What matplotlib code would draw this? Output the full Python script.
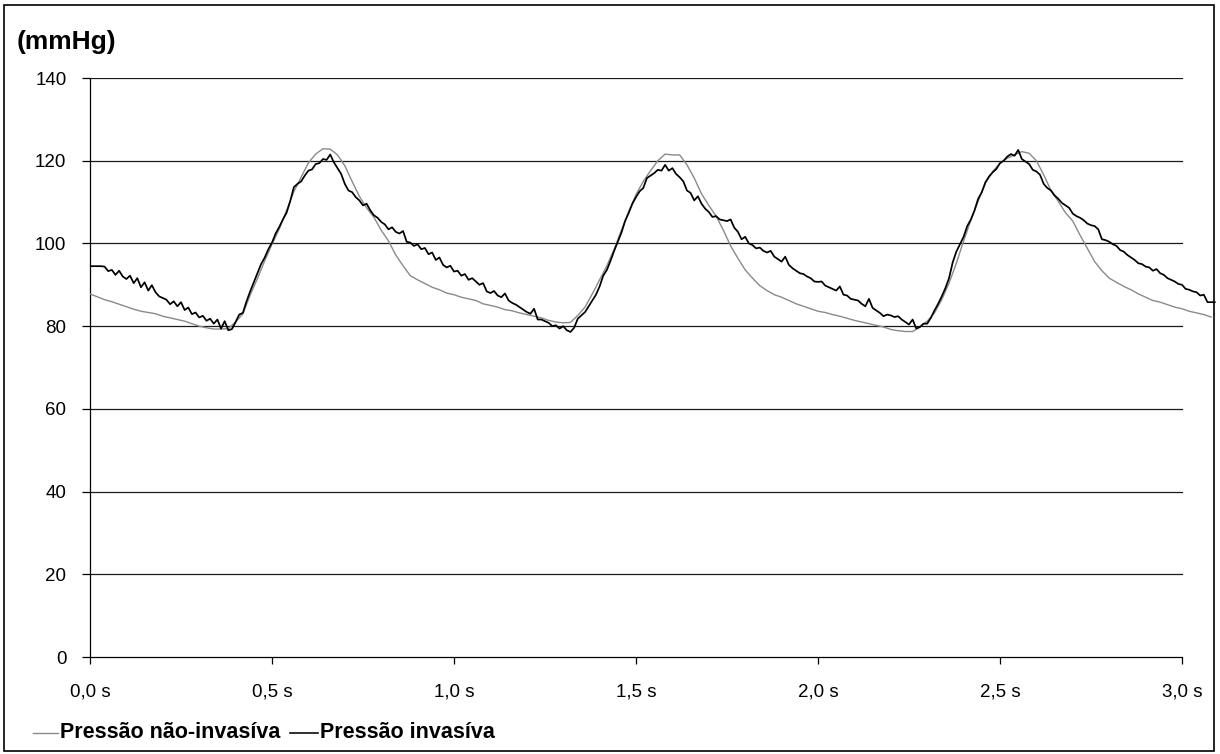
import numpy as np
import matplotlib
matplotlib.use("Agg")
import matplotlib.pyplot as plt
from matplotlib.lines import Line2D
from matplotlib.patches import Rectangle

plt.rcParams['font.family'] = ['Liberation Sans', 'DejaVu Sans']

# ---- data ----
y_label = "(mmHg)"
series_names = ["Pressão não-invasíva", "Pressão invasíva"]
x_ticks = [0.0, 0.5, 1.0, 1.5, 2.0, 2.5, 3.0]
x_tick_labels = ["0,0 s", "0,5 s", "1,0 s", "1,5 s", "2,0 s", "2,5 s", "3,0 s"]
y_ticks = [0, 20, 40, 60, 80, 100, 120, 140]

# invasive pressure, sampled every 0.01 s from 0 s
dt_inv = 0.01
invasive = [
    94.5, 94.5, 94.5, 94.5, 94.4, 93.3, 93.6, 92.4, 93.4, 92.0,
    91.4, 92.2, 90.4, 91.6, 89.4, 90.6, 88.6, 89.9, 88.2, 87.2,
    86.8, 86.4, 85.3, 86.0, 84.8, 85.8, 83.9, 84.5, 82.9, 83.3,
    82.1, 82.5, 81.3, 81.8, 80.6, 81.6, 79.4, 81.2, 79.0, 79.3,
    81.0, 82.8, 83.2, 86.0, 88.4, 90.6, 92.8, 95.0, 96.6, 98.6,
    100.2, 102.4, 104.0, 105.8, 107.4, 110.2, 113.6, 114.4, 115.0, 116.4,
    117.6, 117.9, 119.2, 119.4, 120.4, 120.2, 121.5, 119.6, 118.2, 116.8,
    114.4, 112.8, 112.4, 111.2, 110.4, 109.2, 109.6, 108.0, 106.8, 106.2,
    105.2, 104.6, 103.4, 103.9, 102.8, 102.4, 103.0, 100.4, 100.2, 99.4,
    99.8, 98.6, 98.9, 97.4, 97.8, 96.0, 96.6, 94.8, 94.2, 94.6,
    93.2, 93.4, 92.2, 92.6, 91.2, 91.6, 90.8, 90.0, 90.4, 88.4,
    88.0, 88.5, 87.4, 87.0, 87.9, 86.2, 85.6, 85.2, 84.6, 84.0,
    83.4, 83.0, 84.2, 81.6, 81.6, 81.2, 80.8, 80.0, 80.2, 79.4,
    80.0, 79.0, 78.6, 79.6, 81.8, 82.6, 83.4, 84.8, 86.2, 87.6,
    89.6, 92.2, 93.6, 95.8, 98.2, 100.4, 102.6, 105.4, 107.4, 109.6,
    111.2, 112.6, 113.4, 115.8, 116.4, 117.0, 117.8, 117.6, 119.0, 117.6,
    118.2, 116.8, 116.0, 115.0, 112.8, 112.2, 110.4, 111.4, 109.6, 108.4,
    107.6, 106.4, 106.6, 105.8, 105.6, 105.4, 105.8, 103.8, 102.8, 101.0,
    101.6, 100.0, 99.6, 98.8, 99.0, 98.2, 97.8, 98.2, 96.8, 96.2,
    95.6, 96.8, 94.8, 94.0, 93.4, 92.8, 92.6, 92.0, 91.6, 90.8,
    90.7, 90.8, 89.8, 89.4, 89.0, 88.6, 89.6, 87.6, 87.4, 86.6,
    86.4, 86.2, 85.4, 84.8, 86.6, 84.4, 83.8, 83.2, 82.4, 82.8,
    82.6, 82.2, 82.4, 81.6, 81.0, 80.4, 81.6, 79.4, 79.8, 80.6,
    80.6, 82.0, 83.8, 85.4, 87.2, 89.2, 91.6, 95.4, 98.0, 99.8,
    101.6, 104.2, 105.8, 108.0, 110.8, 112.4, 114.8, 116.2, 117.2, 118.0,
    119.4, 120.0, 121.0, 121.6, 121.2, 122.6, 120.4, 119.8, 119.2, 117.8,
    117.4, 116.6, 114.4, 113.4, 112.8, 111.6, 110.8, 109.8, 109.2, 108.6,
    107.2, 106.6, 106.2, 105.6, 104.8, 104.4, 104.2, 103.4, 101.0, 100.8,
    100.4, 99.8, 99.4, 98.4, 98.0, 97.2, 96.6, 96.0, 95.2, 95.0,
    94.4, 94.2, 93.4, 93.8, 92.8, 92.4, 91.6, 91.2, 90.8, 90.2,
    90.0, 89.0, 88.8, 88.4, 88.2, 87.4, 87.6, 85.8, 85.8, 85.8,
]

# non-invasive pressure, sampled every 0.02 s from 0 s
dt_non = 0.02
non_invasive = [
    87.8, 87.1, 86.4, 85.9, 85.3, 84.7, 84.1, 83.6, 83.3, 83.0,
    82.4, 82.0, 81.6, 81.2, 80.6, 80.0, 79.6, 79.3, 79.3, 79.4,
    81.0, 83.0, 87.5, 91.5, 95.8, 99.8, 103.5, 108.0, 112.5, 116.0,
    119.5, 121.6, 122.9, 122.8, 121.4, 118.8, 115.0, 111.4, 108.6, 106.3,
    103.2, 100.6, 97.2, 94.6, 92.2, 91.2, 90.3, 89.4, 88.8, 88.0,
    87.6, 87.0, 86.6, 86.2, 85.4, 85.0, 84.6, 84.0, 83.7, 83.2,
    82.8, 82.4, 82.0, 81.4, 81.0, 80.8, 80.9, 82.6, 84.6, 87.8,
    91.2, 94.6, 98.6, 103.2, 107.7, 111.8, 115.0, 117.6, 120.0, 121.6,
    121.4, 121.4, 119.0, 115.8, 112.0, 109.2, 106.6, 103.2, 99.4, 96.4,
    93.6, 91.6, 89.8, 88.6, 87.6, 87.0, 86.2, 85.4, 84.8, 84.2,
    83.6, 83.3, 82.8, 82.4, 81.9, 81.4, 81.0, 80.6, 80.2, 79.8,
    79.2, 78.9, 78.7, 78.7, 79.8, 81.2, 83.2, 86.4, 90.4, 95.2,
    100.6, 105.6, 110.2, 114.6, 117.4, 119.4, 120.6, 121.4, 122.2, 121.8,
    120.0, 116.6, 112.8, 110.2, 107.4, 105.4, 102.0, 98.8, 95.6, 93.4,
    91.6, 90.6, 89.6, 88.8, 87.8, 87.0, 86.2, 85.8, 85.2, 84.6,
    84.2, 83.6, 83.2, 82.8, 82.2,
]

t_inv = np.arange(len(invasive)) * dt_inv
t_non = np.arange(len(non_invasive)) * dt_non

# ---- figure ----
W, H = 1220, 754
fig = plt.figure(figsize=(W / 100, H / 100), dpi=100)
ax_left, ax_right, ax_top, ax_bottom = 90, 1216, 78, 657
ax = fig.add_axes([ax_left / W, 1 - ax_bottom / H, (ax_right - ax_left) / W, (ax_bottom - ax_top) / H])

x_end = x_ticks[-1]
xmax = x_end * (ax_right - ax_left) / (1182 - ax_left)
ax.set_xlim(0, xmax)
ax.set_ylim(0, 140)

for v in y_ticks[1:]:
    ax.plot([0, x_end], [v, v], color='#1a1a1a', lw=0.9, zorder=1)

gray_col = '#8a8a8a'
ax.plot(t_non, non_invasive, color=gray_col, lw=1.0, zorder=3)
ax.plot(t_inv, invasive, color='black', lw=1.25, zorder=4)

for s in ['top', 'right']:
    ax.spines[s].set_visible(False)
ax.spines['bottom'].set_bounds(0, x_end)
ax.spines['left'].set_linewidth(0.9)
ax.spines['bottom'].set_linewidth(0.9)

ax.set_xticks(x_ticks)
ax.set_xticklabels(x_tick_labels)
ax.set_yticks(y_ticks)
ax.tick_params(axis='x', direction='out', length=5, width=0.9, pad=14, labelsize=13.5)
ax.tick_params(axis='y', direction='out', length=6, width=0.9, pad=11, labelsize=13.5)

fig.text(17 / W, 1 - 42 / H, y_label, fontsize=19, fontweight='bold', ha='left', va='center')

# legend (manual, bottom)
ly = 1 - 733 / H
fig.add_artist(Line2D([33 / W, 58 / W], [ly, ly], color=gray_col, lw=1.0, transform=fig.transFigure))
fig.text(60 / W, ly, series_names[0], fontsize=15.5, fontweight='bold', ha='left', va='center')
fig.add_artist(Line2D([290 / W, 318 / W], [ly, ly], color='black', lw=1.15, transform=fig.transFigure))
fig.text(320 / W, ly, series_names[1], fontsize=15.5, fontweight='bold', ha='left', va='center')

# outer frame
fig.add_artist(Rectangle((4 / W, 3 / H), (1214 - 4) / W, (750 - 4) / H, fill=False,
                         edgecolor='black', lw=1.2, transform=fig.transFigure))

fig.savefig("out.png", dpi=100)
